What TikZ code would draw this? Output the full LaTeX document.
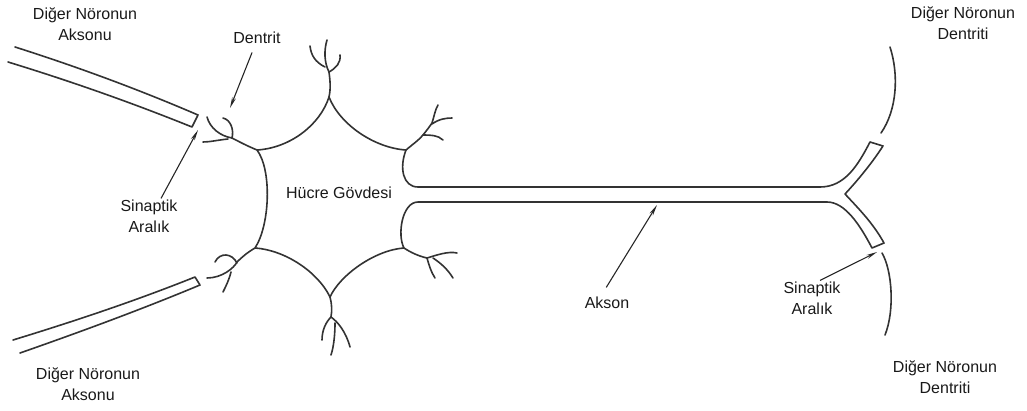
\documentclass[tikz,border=0pt]{standalone}
\usepackage{fontspec}
\setmainfont{Liberation Sans}
\usetikzlibrary{arrows.meta}
\begin{document}
\begin{tikzpicture}[x=1pt,y=-1pt,
  membrane/.style={line width=1.6pt, draw=black!80, line join=round, line cap=round},
  pointer/.style={line width=1.1pt, draw=black!85, -{Stealth[length=11pt,width=4pt]}},
  tag/.style={font=\fontsize{16}{21}\selectfont, text=black!90, align=center, inner sep=1pt}]
\useasboundingbox (0,0) rectangle (1027,410);

% cell body corners
\coordinate (TL) at (257,150);
\coordinate (T)  at (329,97);
\coordinate (TR) at (406,150);
\coordinate (BR) at (404,248);
\coordinate (B)  at (330,297);
\coordinate (BL) at (255,248);

% cell body outline with the axon and its forked terminal
\draw[membrane] (418,187) -- (820,187)
  .. controls (845,187) and (858,165) .. (870,142) -- (883,146)
  .. controls (872,163) and (858,180) .. (845,194)
  .. controls (858,208) and (873,223) .. (884,243) -- (872,248)
  .. controls (860,225) and (845,202) .. (827,202) -- (418,202)
  .. controls (402,202) and (397,235) .. (BR)
  .. controls (375,250) and (340,275) .. (B)
  .. controls (318,272) and (285,250) .. (BL)
  .. controls (270,225) and (272,170) .. (TL)
  .. controls (290,148) and (320,125) .. (T)
  .. controls (340,125) and (375,148) .. (TR)
  .. controls (399,168) and (403,187) .. (418,187) -- cycle;

% dendrites: upper left
\draw[membrane] (TL) .. controls (245,145) and (238,141) .. (232,138);
\draw[membrane] (232,138) .. controls (234,130) and (231,120) .. (223,118);
\draw[membrane] (232,138) .. controls (220,136) and (210,128) .. (207,117);
\draw[membrane] (228,139) .. controls (218,140) and (210,142) .. (203,142);
% top
\draw[membrane] (T) .. controls (331,88) and (330,80) .. (329,72);
\draw[membrane] (329,72) .. controls (336,68) and (341,63) .. (340,55);
\draw[membrane] (329,72) .. controls (324,62) and (324,50) .. (327,40);
\draw[membrane] (325,67) .. controls (315,62) and (311,55) .. (310,46);
% upper right
\draw[membrane] (TR) .. controls (413,144) and (419,140) .. (423,135)
  .. controls (427,130) and (430,126) .. (432,123)
  .. controls (434,117) and (435,110) .. (438,105);
\draw[membrane] (432,124) .. controls (439,119) and (446,118) .. (452,118);
\draw[membrane] (423,135) .. controls (430,135) and (438,135) .. (443,140);
% lower right
\draw[membrane] (BR) .. controls (410,252) and (418,256) .. (427,258);
\draw[membrane] (427,258) .. controls (437,255) and (448,251) .. (457,253);
\draw[membrane] (433,258) .. controls (442,264) and (448,270) .. (453,278);
\draw[membrane] (427,258) .. controls (429,265) and (431,272) .. (435,278);
% bottom
\draw[membrane] (B) .. controls (332,304) and (332,311) .. (331,317);
\draw[membrane] (331,317) .. controls (326,322) and (322,330) .. (322,340);
\draw[membrane] (331,317) .. controls (338,322) and (346,332) .. (350,347);
\draw[membrane] (335,323) .. controls (335,333) and (334,346) .. (331,355);
% lower left
\draw[membrane] (BL) .. controls (248,252) and (242,257) .. (237,262);
\draw[membrane] (237,263) .. controls (232,253) and (220,252) .. (215,262);
\draw[membrane] (237,262) .. controls (234,268) and (222,278) .. (207,278);
\draw[membrane] (231,272) .. controls (229,280) and (226,286) .. (223,292);

% axons of the other neurons
\draw[membrane] (15,47) .. controls (78,67) and (140,90) .. (198,115) -- (192,127)
  .. controls (130,102) and (70,81) .. (8,62);
\draw[membrane] (13,340) .. controls (75,321) and (135,301) .. (195,277) -- (200,285)
  .. controls (140,310) and (80,332) .. (20,353);

% dendrites of the other neurons
\draw[membrane] (890,47) .. controls (899,75) and (897,110) .. (881,133);
\draw[membrane] (882,253) .. controls (892,270) and (895,310) .. (885,335);

% labels
\node[tag] (axonTL) at (85,24) {Diğer Nöronun\\Aksonu};
\node[tag] (dentrit) at (257,38) {Dentrit};
\node[tag] (sinL) at (149,216) {Sinaptik\\Aralık};
\node[tag] (body) at (339,193) {Hücre Gövdesi};
\node[tag] (axonBL) at (88,384) {Diğer Nöronun\\Aksonu};
\node[tag] (akson) at (607,303) {Akson};
\node[tag] (sinR) at (812,298) {Sinaptik\\Aralık};
\node[tag] (dendTR) at (963,23) {Diğer Nöronun\\Dentriti};
\node[tag] (dendBR) at (945,377) {Diğer Nöronun\\Dentriti};

% pointers
\coordinate (dentritTip) at (230,108);
\coordinate (gapL) at (198,130);
\coordinate (axonTip) at (657,205);
\coordinate (gapR) at (877,252);
\draw[pointer, shorten <=8pt] ([xshift=-2pt]dentrit.south) -- (dentritTip);
\draw[pointer] ([xshift=12pt]sinL.north) -- (gapL);
\draw[pointer, shorten <=10pt] ([xshift=-6pt]akson.north) -- (axonTip);
\draw[pointer] ([xshift=8pt]sinR.north) -- (gapR);
\end{tikzpicture}
\end{document}
